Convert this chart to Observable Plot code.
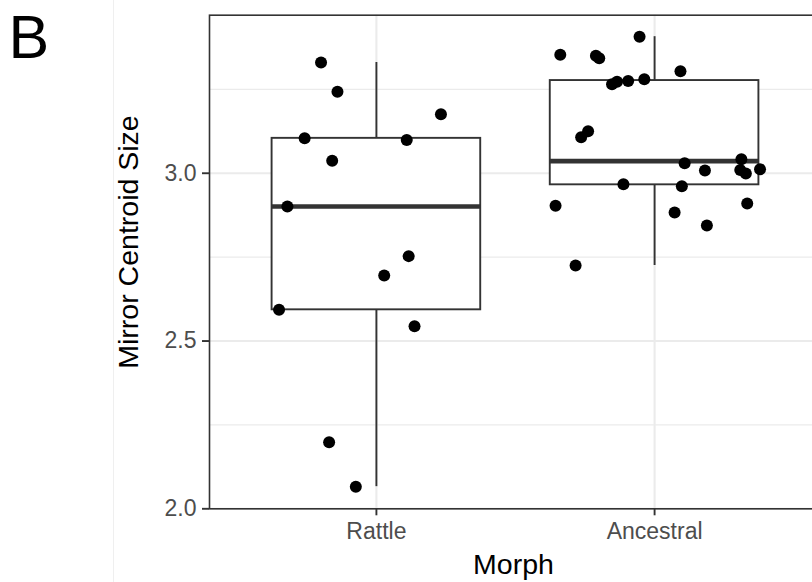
<!DOCTYPE html>
<html>
<head>
<meta charset="utf-8">
<script src="https://cdn.jsdelivr.net/npm/d3@7"></script>
<script src="https://cdn.jsdelivr.net/npm/@observablehq/plot@0.6"></script>
<style>
  html, body { margin: 0; padding: 0; background: #fff; overflow: hidden; }
  #chart { width: 812px; height: 582px; overflow: hidden; position: relative; }
  #chart svg { display: block; max-width: none !important; }
</style>
</head>
<body>
<div id="chart"></div>
<script>
// Morph groups along the x axis
const categories = ["Rattle", "Ancestral"];

// Mirror centroid size per specimen, with the horizontal jitter of each dot
const rattleSize = [3.330, 3.243, 3.176, 3.104, 3.099, 3.037, 2.901, 2.753, 2.695, 2.593, 2.544, 2.198, 2.066];
const rattleJitter = [-0.199, -0.140, 0.232, -0.258, 0.109, -0.159, -0.320, 0.116, 0.028, -0.350, 0.137, -0.170, -0.074];

const ancestralSize = [3.407, 3.353, 3.350, 3.343, 3.304, 3.265, 3.273, 3.275, 3.280, 3.125, 3.107, 3.042,
                       3.030, 3.008, 3.010, 2.999, 3.012, 2.967, 2.961, 2.903, 2.910, 2.883, 2.844, 2.725];
const ancestralJitter = [-0.054, -0.339, -0.211, -0.199, 0.093, -0.153, -0.135, -0.095, -0.037, -0.239, -0.264, 0.312,
                         0.108, 0.181, 0.308, 0.328, 0.379, -0.112, 0.098, -0.356, 0.333, 0.072, 0.188, -0.284];

// Axis ticks
const yTicks = [2.0, 2.5, 3.0];
const yMinor = [2.25, 2.75, 3.25];
const yDomain = [2.0, 3.471];

const groups = [
  {morph: categories[0], pos: 1, values: rattleSize, jitter: rattleJitter},
  {morph: categories[1], pos: 2, values: ancestralSize, jitter: ancestralJitter}
];

// Points table
const points = groups.flatMap(g => g.values.map((v, i) => ({morph: g.morph, x: g.pos + g.jitter[i], y: v})));

// Tukey box statistics (type-7 quantiles, 1.5 IQR whiskers)
const boxes = groups.map(g => {
  const s = [...g.values].sort(d3.ascending);
  const q1 = d3.quantile(s, 0.25), med = d3.quantile(s, 0.5), q3 = d3.quantile(s, 0.75);
  const iqr = q3 - q1;
  const lo = d3.min(s.filter(v => v >= q1 - 1.5 * iqr));
  const hi = d3.max(s.filter(v => v <= q3 + 1.5 * iqr));
  return {pos: g.pos, q1, med, q3, lo, hi};
});

const boxHalf = 0.375;
const ink = "#333333";
const grid = "#EBEBEB";
const font = "'Liberation Sans', Arial, Helvetica, sans-serif";

const chart = Plot.plot({
  width: 821,
  height: 582,
  marginLeft: 209,
  marginRight: 0,
  marginTop: 14.7,
  marginBottom: 73.7,
  style: {fontFamily: font, background: "#fff", overflow: "visible"},
  x: {type: "linear", domain: [0.4, 2.6], axis: null},
  y: {domain: yDomain, axis: null},
  marks: [
    // faint divider from the neighbouring panel
    Plot.ruleX([0.4], {dx: -96, stroke: "#EFEFEF", strokeWidth: 1, insetTop: -14.7, insetBottom: -73.7}),
    // grid
    Plot.ruleY(yMinor, {stroke: grid, strokeWidth: 1.1}),
    Plot.ruleY(yTicks, {stroke: grid, strokeWidth: 2.1}),
    Plot.ruleX([1, 2], {stroke: grid, strokeWidth: 2.1}),
    // whiskers
    Plot.ruleX(boxes, {x: "pos", y1: "q3", y2: "hi", stroke: ink, strokeWidth: 1.9}),
    Plot.ruleX(boxes, {x: "pos", y1: "lo", y2: "q1", stroke: ink, strokeWidth: 1.9}),
    // boxes
    Plot.rect(boxes, {x1: d => d.pos - boxHalf, x2: d => d.pos + boxHalf, y1: "q1", y2: "q3", fill: "#fff", stroke: ink, strokeWidth: 1.9}),
    // medians
    Plot.ruleY(boxes, {y: "med", x1: d => d.pos - boxHalf, x2: d => d.pos + boxHalf, stroke: ink, strokeWidth: 4.6}),
    // specimens
    Plot.dot(points, {x: "x", y: "y", r: 6, fill: "#000", stroke: "none"}),
    // panel border
    Plot.frame({stroke: ink, strokeWidth: 1.6}),
    // axes
    Plot.axisY(yTicks, {tickSize: 7, tickPadding: 6, tickFormat: d3.format(".1f"), fontSize: 23,
      stroke: ink, strokeWidth: 1.9, fill: "#4D4D4D", label: null}),
    Plot.axisX([1, 2], {tickSize: 7, tickPadding: 6.4, tickFormat: d => categories[d - 1], fontSize: 23,
      stroke: ink, strokeWidth: 1.9, fill: "#4D4D4D", label: null}),
    // axis titles
    Plot.text(["Mirror Centroid Size"], {frameAnchor: "left", rotate: -90, dx: -72, dy: -20,
      lineAnchor: "bottom", textAnchor: "middle", fontSize: 28.5, fill: "#000"}),
    Plot.text(["Morph"], {frameAnchor: "bottom", dx: -2, dy: 64.7, lineAnchor: "bottom",
      textAnchor: "middle", fontSize: 28.5, fill: "#000"}),
    // panel tag
    Plot.text(["B"], {frameAnchor: "top-left", dx: -201, dy: 42.6, lineAnchor: "bottom",
      textAnchor: "start", fontSize: 61, fill: "#000"})
  ]
});

document.getElementById("chart").appendChild(chart);
</script>
</body>
</html>
